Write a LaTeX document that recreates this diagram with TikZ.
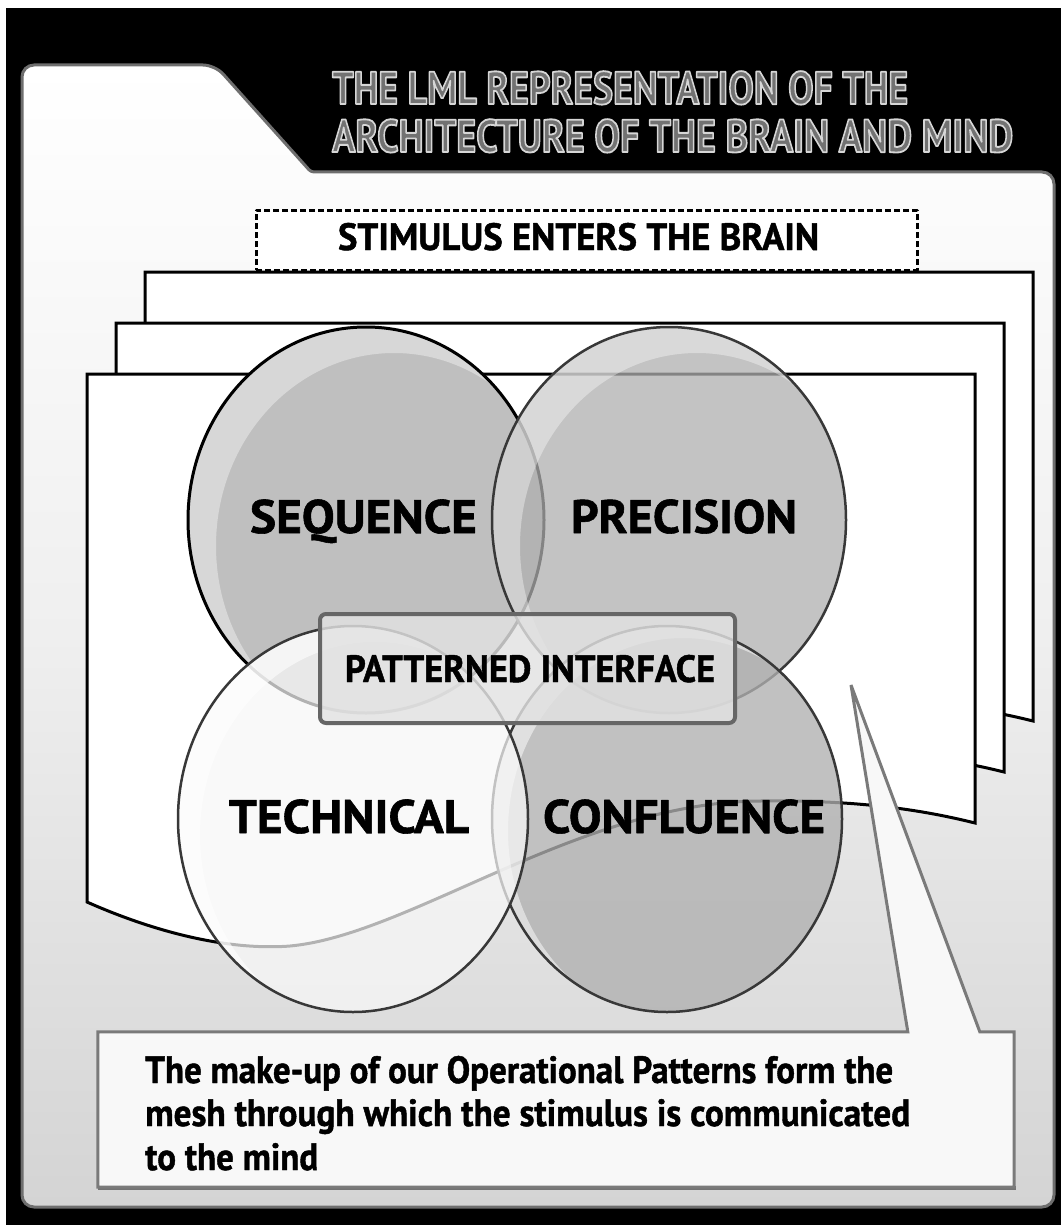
\documentclass[tikz,border=0pt]{standalone}
\usepackage{fontspec}
\usepackage{graphicx}
\newfontfamily\ptsans{PT Sans}[BoldFeatures={FakeBold=1.2}]
\newfontfamily\titlefont{PT Sans}[BoldFeatures={FakeBold=4}]
\usetikzlibrary{calc}

% stretch or squeeze a text to a given width, keeping its height
\newcommand\fitw[2]{\resizebox{#1}{\height}{#2}}
% outline colour of the title letters (stroke only)
\newcommand\rimstroke{\special{pdf:code 0.84 G}}

\definecolor{titlegray}{HTML}{727272}
\definecolor{folderedge}{HTML}{6E6E6E}
\definecolor{folderlow}{HTML}{D4D4D4}
\definecolor{foldermid}{HTML}{EFEFEF}
\definecolor{bubble}{HTML}{B0B0B0}
\definecolor{bubbleopaque}{HTML}{BFBFBF}
\definecolor{bubblelight}{HTML}{F8F8F8}
\definecolor{bubbleedge}{HTML}{383838}
\definecolor{ifacefill}{HTML}{E2E2E2}
\definecolor{ifaceedge}{HTML}{666666}
\definecolor{notefill}{HTML}{F8F8F8}
\definecolor{noteedge}{HTML}{7A7A7A}

\tikzset{
  sheet/.style={draw=black, line width=3pt, fill=white, line join=miter},
  bubbleline/.style={draw=bubbleedge, line width=2.5pt},
  shine/.style={fill=white, fill opacity=0.38, even odd rule},
  titletext/.style={inner sep=0pt, anchor=base west, text=titlegray,
    font=\titlefont\bfseries\fontsize{46pt}{50pt}\selectfont},
  lbl/.style={inner sep=0pt, anchor=base,
    font=\ptsans\bfseries\fontsize{47pt}{50pt}\selectfont},
  midlbl/.style={inner sep=0pt, anchor=base,
    font=\ptsans\bfseries\fontsize{38pt}{42pt}\selectfont},
  notetext/.style={inner sep=0pt, anchor=base west,
    font=\ptsans\bfseries\fontsize{38pt}{44pt}\selectfont},
  stimbox/.style={draw=black, fill=white, line width=3pt,
    dash pattern=on 6pt off 3pt, minimum width=661pt, minimum height=60pt,
    inner sep=0pt},
  ifacebox/.style={draw=ifaceedge, line width=4pt, rounded corners=6pt,
    fill=ifacefill, fill opacity=0.82, text opacity=1,
    minimum width=415pt, minimum height=109pt, inner sep=0pt},
  notebox/.style={draw=noteedge, line width=3pt, fill=notefill, line join=miter},
}

\begin{document}
\begin{tikzpicture}[x=1pt, y=-1pt, line join=round]
\useasboundingbox (0,0) rectangle (1061,1225);
\fill[white] (0,0) rectangle (1061,1225);
\fill[black] (6,8) rectangle (1061,1225);

% folder with its tab
\path[draw=folderedge, line width=3pt, top color=white, bottom color=folderlow,
      middle color=foldermid]
  (22,1207) [rounded corners=12pt] -- (22,65) -- (215,65)
  [rounded corners=3pt] -- (311,172) [rounded corners=12pt] -- (1054,172)
  -- (1054,1207) -- cycle;

% title: grey letters with a light outline
\node[titletext] (title1) at (332,104)
  {\rimstroke\fitw{576pt}{THE LML REPRESENTATION OF THE}};
\node[titletext] (title2) at (332,152)
  {\rimstroke\fitw{681pt}{ARCHITECTURE OF THE BRAIN AND MIND}};

% three stacked sheets, back to front
\foreach \dx/\dy in {58/-102, 29/-51, 0/0} {
  \draw[sheet, shift={(\dx,\dy)}]
    (87,374) -- (975,374) -- (975,823)
    .. controls (915,808) and (850,800) .. (760,801)
    .. controls (580,802) and (410,935) .. (290,946)
    .. controls (225,951) and (150,930) .. (87,902) -- cycle;
}

% stimulus banner
\node[stimbox] (stim) at (586.5,240) {};
\node[midlbl] (stimlbl) at (578.5,250) {\fitw{481pt}{STIMULUS ENTERS THE BRAIN}};

% SEQUENCE bubble
\fill[bubbleopaque] (366,520) ellipse [x radius=178pt, y radius=193pt];
\begin{scope}
  \clip (366,520) ellipse [x radius=178pt, y radius=193pt];
  \fill[shine] (366,520) ellipse [x radius=178pt, y radius=193pt]
               (394,546) ellipse [x radius=178pt, y radius=193pt];
\end{scope}
\draw[black, line width=3pt] (366,520) ellipse [x radius=178pt, y radius=193pt];

% PRECISION bubble
\fill[bubble, fill opacity=0.75] (669,520) ellipse [x radius=177pt, y radius=193pt];
\begin{scope}
  \clip (669,520) ellipse [x radius=177pt, y radius=193pt];
  \fill[shine] (669,520) ellipse [x radius=177pt, y radius=193pt]
               (697,546) ellipse [x radius=177pt, y radius=193pt];
\end{scope}
\draw[bubbleline] (669,520) ellipse [x radius=177pt, y radius=193pt];

% CONFLUENCE bubble
\fill[bubble, fill opacity=0.78] (667,819) ellipse [x radius=175pt, y radius=193pt];
\begin{scope}
  \clip (667,819) ellipse [x radius=175pt, y radius=193pt];
  \fill[shine, fill opacity=0.5] (667,819) ellipse [x radius=175pt, y radius=193pt]
               (683,831) ellipse [x radius=175pt, y radius=193pt];
\end{scope}
\draw[bubbleline] (667,819) ellipse [x radius=175pt, y radius=193pt];

% TECHNICAL bubble
\fill[bubblelight, fill opacity=0.72] (353,819) ellipse [x radius=175pt, y radius=193pt];
\begin{scope}
  \clip (353,819) ellipse [x radius=175pt, y radius=193pt];
  \fill[shine, fill opacity=0.6] (353,819) ellipse [x radius=175pt, y radius=193pt]
               (375,835) ellipse [x radius=175pt, y radius=193pt];
\end{scope}
\draw[bubbleline] (353,819) ellipse [x radius=175pt, y radius=193pt];

% bubble labels
\node[lbl] (seqlbl)  at (363.5,533) {\fitw{227pt}{SEQUENCE}};
\node[lbl] (preclbl) at (684,533)   {\fitw{226pt}{PRECISION}};
\node[lbl] (techlbl) at (349,833)   {\fitw{240pt}{TECHNICAL}};
\node[lbl] (conflbl) at (684,833)   {\fitw{282pt}{CONFLUENCE}};

% interface panel
\node[ifacebox] (iface) at (527.5,668.5) {};
\node[midlbl] (ifacelbl) at (530,682) {\fitw{370pt}{PATTERNED INTERFACE}};

% note with its pointer
\node[inner sep=0pt, minimum width=916pt, minimum height=155pt] (note) at (556,1109.5) {};
\coordinate (tip) at (851,685);
\fill[black!55] ($(note.south west)+(0,-1)$) rectangle ($(note.south east)+(2,3)$);
\path[notebox] (note.south west) -- (note.north west)
  -- ($(note.north west)+(810,0)$) -- (tip) -- ($(note.north west)+(882,0)$)
  -- (note.north east) -- (note.south east) -- cycle;
\node[notetext] (line1) at (145,1083)
  {\fitw{748pt}{The make-up of our Operational Patterns form the}};
\node[notetext] (line2) at (145,1126)
  {\fitw{765pt}{mesh through which the stimulus is communicated}};
\node[notetext] (line3) at (145,1170)
  {\fitw{173pt}{to the mind}};
\end{tikzpicture}
\end{document}
